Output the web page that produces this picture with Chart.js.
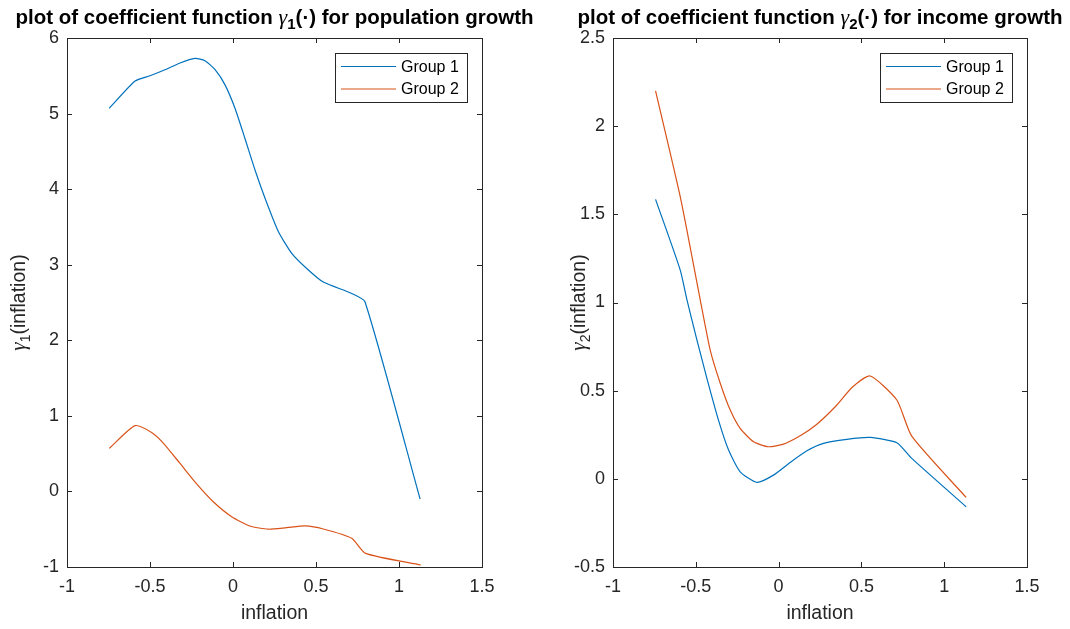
<!DOCTYPE html>
<html>
<head>
<meta charset="utf-8">
<script src="https://cdn.jsdelivr.net/npm/chart.js@4"></script>
<style>
  html, body { margin: 0; padding: 0; background: #fff; }
  #wrap { position: relative; width: 1070px; height: 629px; }
  .box { position: absolute; top: 0; width: 535px; height: 629px; }
</style>
</head>
<body>
<div id="wrap">
  <div class="box" style="left:0"><canvas id="chart1"></canvas></div>
  <div class="box" style="left:535px"><canvas id="chart2"></canvas></div>
</div>
<script>
// population growth (left panel)
const popX1 = [-0.745, -0.59, -0.5, -0.41, -0.319, -0.229, -0.169, -0.108, -0.048, 0.012, 0.072, 0.133, 0.193, 0.273, 0.354, 0.444, 0.544, 0.715, 0.795, 1.127];
const popY1 = [5.07, 5.43, 5.50, 5.58, 5.67, 5.73, 5.70, 5.58, 5.38, 5.07, 4.67, 4.25, 3.88, 3.44, 3.15, 2.95, 2.77, 2.62, 2.51, -0.10];
const popX2 = [-0.745, -0.59, -0.49, -0.42, -0.319, -0.219, -0.119, -0.008, 0.102, 0.213, 0.323, 0.434, 0.544, 0.715, 0.799, 1.131];
const popY2 = [0.57, 0.87, 0.78, 0.64, 0.37, 0.10, -0.136, -0.334, -0.457, -0.50, -0.48, -0.457, -0.497, -0.62, -0.82, -0.974];

// income growth (right panel)
const incX1 = [-0.743, -0.594, -0.553, -0.493, -0.433, -0.363, -0.302, -0.232, -0.131, -0.031, 0.070, 0.171, 0.271, 0.412, 0.553, 0.714, 0.804, 1.132];
const incY1 = [1.585, 1.184, 1.014, 0.787, 0.570, 0.333, 0.163, 0.04, -0.02, 0.021, 0.093, 0.159, 0.201, 0.224, 0.235, 0.205, 0.116, -0.158];
const incX2 = [-0.743, -0.594, -0.473, -0.413, -0.352, -0.292, -0.232, -0.151, -0.061, 0.030, 0.130, 0.231, 0.342, 0.448, 0.553, 0.714, 0.804, 1.132];
const incY2 = [2.20, 1.60, 1.014, 0.730, 0.541, 0.390, 0.286, 0.210, 0.182, 0.197, 0.244, 0.310, 0.409, 0.522, 0.583, 0.447, 0.242, -0.105];

const seriesNames = ['Group 1', 'Group 2'];
const xTicks = [-1, -0.5, 0, 0.5, 1, 1.5];
const xTickLabels = ['-1', '-0.5', '0', '0.5', '1', '1.5'];
const yTicksPop = [-1, 0, 1, 2, 3, 4, 5, 6];
const yTickLabelsPop = ['-1', '0', '1', '2', '3', '4', '5', '6'];
const yTicksInc = [-0.5, 0, 0.5, 1, 1.5, 2, 2.5];
const yTickLabelsInc = ['-0.5', '0', '0.5', '1', '1.5', '2', '2.5'];

const BLUE = '#0072BD';
const ORANGE = '#D95319';
const AXC = '#262626';
const FONT = '"Liberation Sans", Arial, Helvetica, sans-serif';
const SERIF = '"Liberation Serif", "DejaVu Serif", serif';

function pts(xs, ys) {
  return xs.map((x, i) => ({ x: x, y: ys[i] }));
}

// draws rich text pieces: [{t, font, sub}]
function drawPieces(c, pieces, x, y) {
  let w = 0;
  pieces.forEach(p => { c.font = p.font; w += c.measureText(p.t).width; });
  let cx = x - w / 2;
  pieces.forEach(p => {
    c.font = p.font;
    c.fillText(p.t, cx, y + (p.sub ? 5 : 0));
    cx += c.measureText(p.t).width;
  });
}

const matlabLook = {
  id: 'matlabLook',
  afterDraw(chart, args, opts) {
    const c = chart.ctx;
    const a = chart.chartArea;
    const xs = chart.scales.x, ys = chart.scales.y;
    c.save();
    c.strokeStyle = AXC;
    c.lineWidth = 1;
    c.strokeRect(Math.round(a.left) + 0.5, Math.round(a.top) + 0.5, Math.round(a.right - a.left), Math.round(a.bottom - a.top));
    c.beginPath();
    opts.xt.forEach(v => {
      const px = Math.round(xs.getPixelForValue(v)) + 0.5;
      c.moveTo(px, a.bottom); c.lineTo(px, a.bottom - 5);
      c.moveTo(px, a.top); c.lineTo(px, a.top + 5);
    });
    opts.yt.forEach(v => {
      const py = Math.round(ys.getPixelForValue(v)) + 0.5;
      c.moveTo(a.left, py); c.lineTo(a.left + 5, py);
      c.moveTo(a.right, py); c.lineTo(a.right - 5, py);
    });
    c.stroke();

    // title
    c.fillStyle = '#000';
    c.textBaseline = 'alphabetic';
    const cxm = (a.left + a.right) / 2;
    drawPieces(c, [
      { t: opts.title[0], font: 'bold 20.5px ' + FONT },
      { t: '\u03b3', font: 'italic 22px ' + SERIF },
      { t: opts.sub, font: 'bold 15px ' + FONT, sub: true },
      { t: opts.title[1], font: 'bold 20.5px ' + FONT }
    ], cxm, 24);

    // y label
    c.fillStyle = AXC;
    c.save();
    c.translate(opts.ylx, (a.top + a.bottom) / 2);
    c.rotate(-Math.PI / 2);
    drawPieces(c, [
      { t: '\u03b3', font: 'italic 21px ' + SERIF },
      { t: opts.sub, font: '14px ' + FONT, sub: true },
      { t: '(inflation)', font: '19.5px ' + FONT }
    ], 0, 0);
    c.restore();

    // legend
    const lg = opts.legend;
    c.fillStyle = '#fff';
    c.fillRect(lg.x, lg.y, lg.w, lg.h);
    c.strokeStyle = AXC;
    c.strokeRect(lg.x + 0.5, lg.y + 0.5, lg.w, lg.h);
    chart.data.datasets.forEach((ds, i) => {
      const ly = lg.y + 13.5 + i * 22.5;
      c.strokeStyle = ds.borderColor;
      c.lineWidth = 1.2;
      c.beginPath();
      c.moveTo(lg.x + 6, ly); c.lineTo(lg.x + 61, ly);
      c.stroke();
      c.fillStyle = '#000';
      c.font = '16px ' + FONT;
      c.textBaseline = 'middle';
      c.fillText(ds.label, lg.x + 66, ly + 1);
    });
    c.restore();
  }
};

function makeChart(id, s1, s2, yMin, yMax, yt, ytl, yWidth, rightPad, opts) {
  return new Chart(document.getElementById(id), {
    type: 'line',
    data: {
      datasets: [
        { label: seriesNames[0], data: s1, borderColor: BLUE, borderWidth: 1.2, pointRadius: 0, fill: false, tension: 0.2 },
        { label: seriesNames[1], data: s2, borderColor: ORANGE, borderWidth: 1.2, pointRadius: 0, fill: false, tension: 0.2 }
      ]
    },
    options: {
      responsive: true,
      maintainAspectRatio: false,
      animation: false,
      layout: { padding: { top: 38, right: rightPad, left: 0, bottom: 0 } },
      scales: {
        x: {
          type: 'linear', min: -1, max: 1.5,
          afterBuildTicks: sc => { sc.ticks = xTicks.map(v => ({ value: v })); },
          afterFit: sc => { sc.height = 62; },
          grid: { display: false, drawTicks: false },
          border: { display: false },
          ticks: { padding: 9, color: AXC, font: { family: FONT, size: 18 },
            callback: v => xTickLabels[xTicks.indexOf(v)] },
          title: { display: true, text: 'inflation', color: AXC, font: { family: FONT, size: 19.5 }, padding: { top: 0, bottom: 4 } }
        },
        y: {
          min: yMin, max: yMax,
          afterBuildTicks: sc => { sc.ticks = yt.map(v => ({ value: v })); },
          afterFit: sc => { sc.width = yWidth; },
          grid: { display: false, drawTicks: false },
          border: { display: false },
          ticks: { padding: 8, color: AXC, font: { family: FONT, size: 18 },
            callback: v => ytl[yt.indexOf(v)] }
        }
      },
      plugins: {
        legend: { display: false },
        tooltip: { enabled: false },
        matlabLook: opts
      }
    },
    plugins: [matlabLook]
  });
}

makeChart('chart1', pts(popX1, popY1), pts(popX2, popY2), -1, 6, yTicksPop, yTickLabelsPop, 67, 53, {
  xt: xTicks, yt: yTicksPop, sub: '1', ylx: 25,
  title: ['plot of coefficient function ', '(\u00b7) for population growth'],
  legend: { x: 335, y: 53, w: 132, h: 49 }
});
makeChart('chart2', pts(incX1, incY1), pts(incX2, incY2), -0.5, 2.5, yTicksInc, yTickLabelsInc, 78, 43, {
  xt: xTicks, yt: yTicksInc, sub: '2', ylx: 585 - 535,
  title: ['plot of coefficient function ', '(\u00b7) for income growth'],
  legend: { x: 880 - 535, y: 53, w: 132, h: 49 }
});
</script>
</body>
</html>
